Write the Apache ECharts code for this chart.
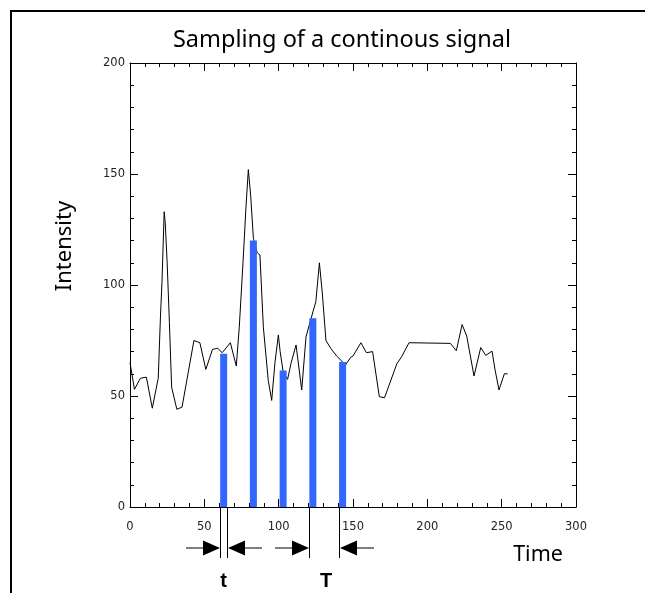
<!DOCTYPE html>
<html><head><meta charset="utf-8">
<script src="https://cdn.jsdelivr.net/npm/echarts@6/dist/echarts.min.js"></script>
<style>html,body{margin:0;padding:0;background:#fff}#c{width:645px;height:593px}</style>
</head><body><div id="c"></div>
<script>
// ---- data ----
const signalX = [0,3,7,11,15,19,20.5,21.5,23,23.7,25,26.5,28,31.5,35,43,47,51,55.5,59,62,67.5,71.5,73.5,76,78,79.6,81.2,83,85.6,87.4,89.7,93,95.3,97.5,99.8,101,103,106,108.3,111.7,115.5,118.4,121,125,127.4,129.4,131.8,135,139,142,145,148.4,150,155.3,159,163.2,167.7,171.2,179.5,182.7,187.7,215.5,219.5,223.4,226.5,231.4,235.9,239.3,243.5,245.5,248.2,251.8,254];
const signalY = [65,53,58,58.5,44.5,58,86,101,133,128,110,83,54,44,45,75,74,62,71,71.5,69.5,74,63.5,81,110,135,152,140,121,114.5,113.5,81,57,48,65,77.5,70,61,57.5,64.7,73,52.7,76.7,83,92.5,110,96,75,71.5,68,66,64,67.4,68,74,69.5,70,49.7,49.2,64.5,67.7,74,73.7,70.4,82.2,77,59,71.8,68.3,70.2,62,52.7,60,60];
const sampleX = [63,83,103,123,143];
const sampleY = [69,120,61.5,85,65.3];
const xTickValues = [0,50,100,150,200,250,300];
const yTickValues = [0,50,100,150,200];
const titleText = 'Sampling of a continous signal';
const xName = 'Time';
const yName = 'Intensity';
const gapLabels = ['t','T'];

const chart = echarts.init(document.getElementById('c'), null, {renderer:'canvas'});
const tickFont = {fontFamily:'DejaVu Sans', fontSize:11.5, color:'#222'};
function xAx(pos, labels){
  return {type:'value', position:pos, min:xTickValues[0], max:xTickValues[xTickValues.length-1], interval:50,
    axisLine:{show:true, onZero:false, lineStyle:{color:'#000', width:1}},
    axisTick:{show:true, inside:true, length:8, lineStyle:{color:'#000'}},
    minorTick:{show:true, splitNumber:5, length:4, lineStyle:{color:'#000'}},
    splitLine:{show:false}, minorSplitLine:{show:false},
    axisLabel:Object.assign({show:labels, margin:14, formatter:v=>String(v)}, tickFont)};
}
function yAx(pos, labels){
  return {type:'value', position:pos, min:yTickValues[0], max:yTickValues[yTickValues.length-1], interval:50,
    axisLine:{show:true, onZero:false, lineStyle:{color:'#000', width:1}},
    axisTick:{show:true, inside:true, length:8, lineStyle:{color:'#000'}},
    minorTick:{show:true, splitNumber:5, length:4, lineStyle:{color:'#000'}},
    splitLine:{show:false}, minorSplitLine:{show:false},
    axisLabel:Object.assign({show:labels, margin:5, formatter:v=>String(v)}, tickFont)};
}
chart.setOption({
  animation:false,
  backgroundColor:'#fff',
  grid:{left:130, right:69, top:63, bottom:86, containLabel:false},
  xAxis:[xAx('bottom', true), xAx('top', false)],
  yAxis:[yAx('left', true), yAx('right', false)],
  series:[
    {type:'line', xAxisIndex:0, yAxisIndex:0, data:signalX.map((x,i)=>[x, signalY[i]]),
     showSymbol:false, symbol:'none', lineStyle:{color:'#000', width:1}, z:2},
    {type:'bar', xAxisIndex:0, yAxisIndex:0, data:sampleX.map((x,i)=>[x, sampleY[i]]),
     barWidth:7, itemStyle:{color:'#3366ff'}, z:3}
  ]
});

const px = v => chart.convertToPixel({xAxisIndex:0}, v);
const py = v => chart.convertToPixel({yAxisIndex:0}, v);
const half = 3.5;
const y0 = py(0);
const b1L = px(sampleX[0]) - half, b1R = px(sampleX[0]) + half;
const b4L = px(sampleX[3]) - half, b5L = px(sampleX[4]) - half;
const ay = y0 + 41;
const lineStyle = {stroke:'#000', lineWidth:1};
const g = [];
// frame
g.push({type:'line', shape:{x1:11, y1:11, x2:11, y2:593}, style:{stroke:'#000', lineWidth:2}});
g.push({type:'line', shape:{x1:10, y1:11, x2:645, y2:11}, style:{stroke:'#000', lineWidth:2}});
// vertical marker lines
[b1L, b1R, b4L, b5L].forEach(x => {
  const xx = Math.round(x) + 0.5;
  g.push({type:'line', shape:{x1:xx, y1:y0, x2:xx, y2:y0+51}, style:lineStyle});
});
function arrow(tip, dir){ // dir +1 pointing right, -1 pointing left
  const tl = 17, hh = 7.5, ll = 34;
  g.push({type:'polygon', shape:{points:[[tip, ay],[tip - dir*tl, ay-hh],[tip - dir*tl, ay+hh]]}, style:{fill:'#000'}});
  g.push({type:'line', shape:{x1:tip - dir*tl, y1:ay, x2:tip - dir*ll, y2:ay}, style:lineStyle});
}
arrow(Math.round(b1L), 1);
arrow(Math.round(b1R)+1, -1);
arrow(Math.round(b4L), 1);
arrow(Math.round(b5L)+1, -1);
g.push({type:'text', x:(b1L+b1R)/2, y:y0+74, style:{text:gapLabels[0], fontFamily:'Liberation Sans', fontWeight:'bold', fontSize:20, fill:'#000', align:'center', verticalAlign:'middle'}});
g.push({type:'text', x:(b4L+b5L)/2 + 2, y:y0+74, style:{text:gapLabels[1], fontFamily:'Liberation Sans', fontWeight:'bold', fontSize:20, fill:'#000', align:'center', verticalAlign:'middle'}});
// title and axis names
g.push({type:'text', x:342, y:40, style:{text:titleText, fontFamily:'Noto Sans', fontSize:23.5, fill:'#000', align:'center', verticalAlign:'middle'}});
g.push({type:'text', x:65, y:246, rotation:Math.PI/2, style:{text:yName, fontFamily:'Noto Sans', fontSize:22, fill:'#000', align:'center', verticalAlign:'middle'}});
g.push({type:'text', x:538, y:555, style:{text:xName, fontFamily:'Noto Sans', fontSize:21.5, fill:'#000', align:'center', verticalAlign:'middle'}});
chart.setOption({graphic:g});
</script></body></html>
